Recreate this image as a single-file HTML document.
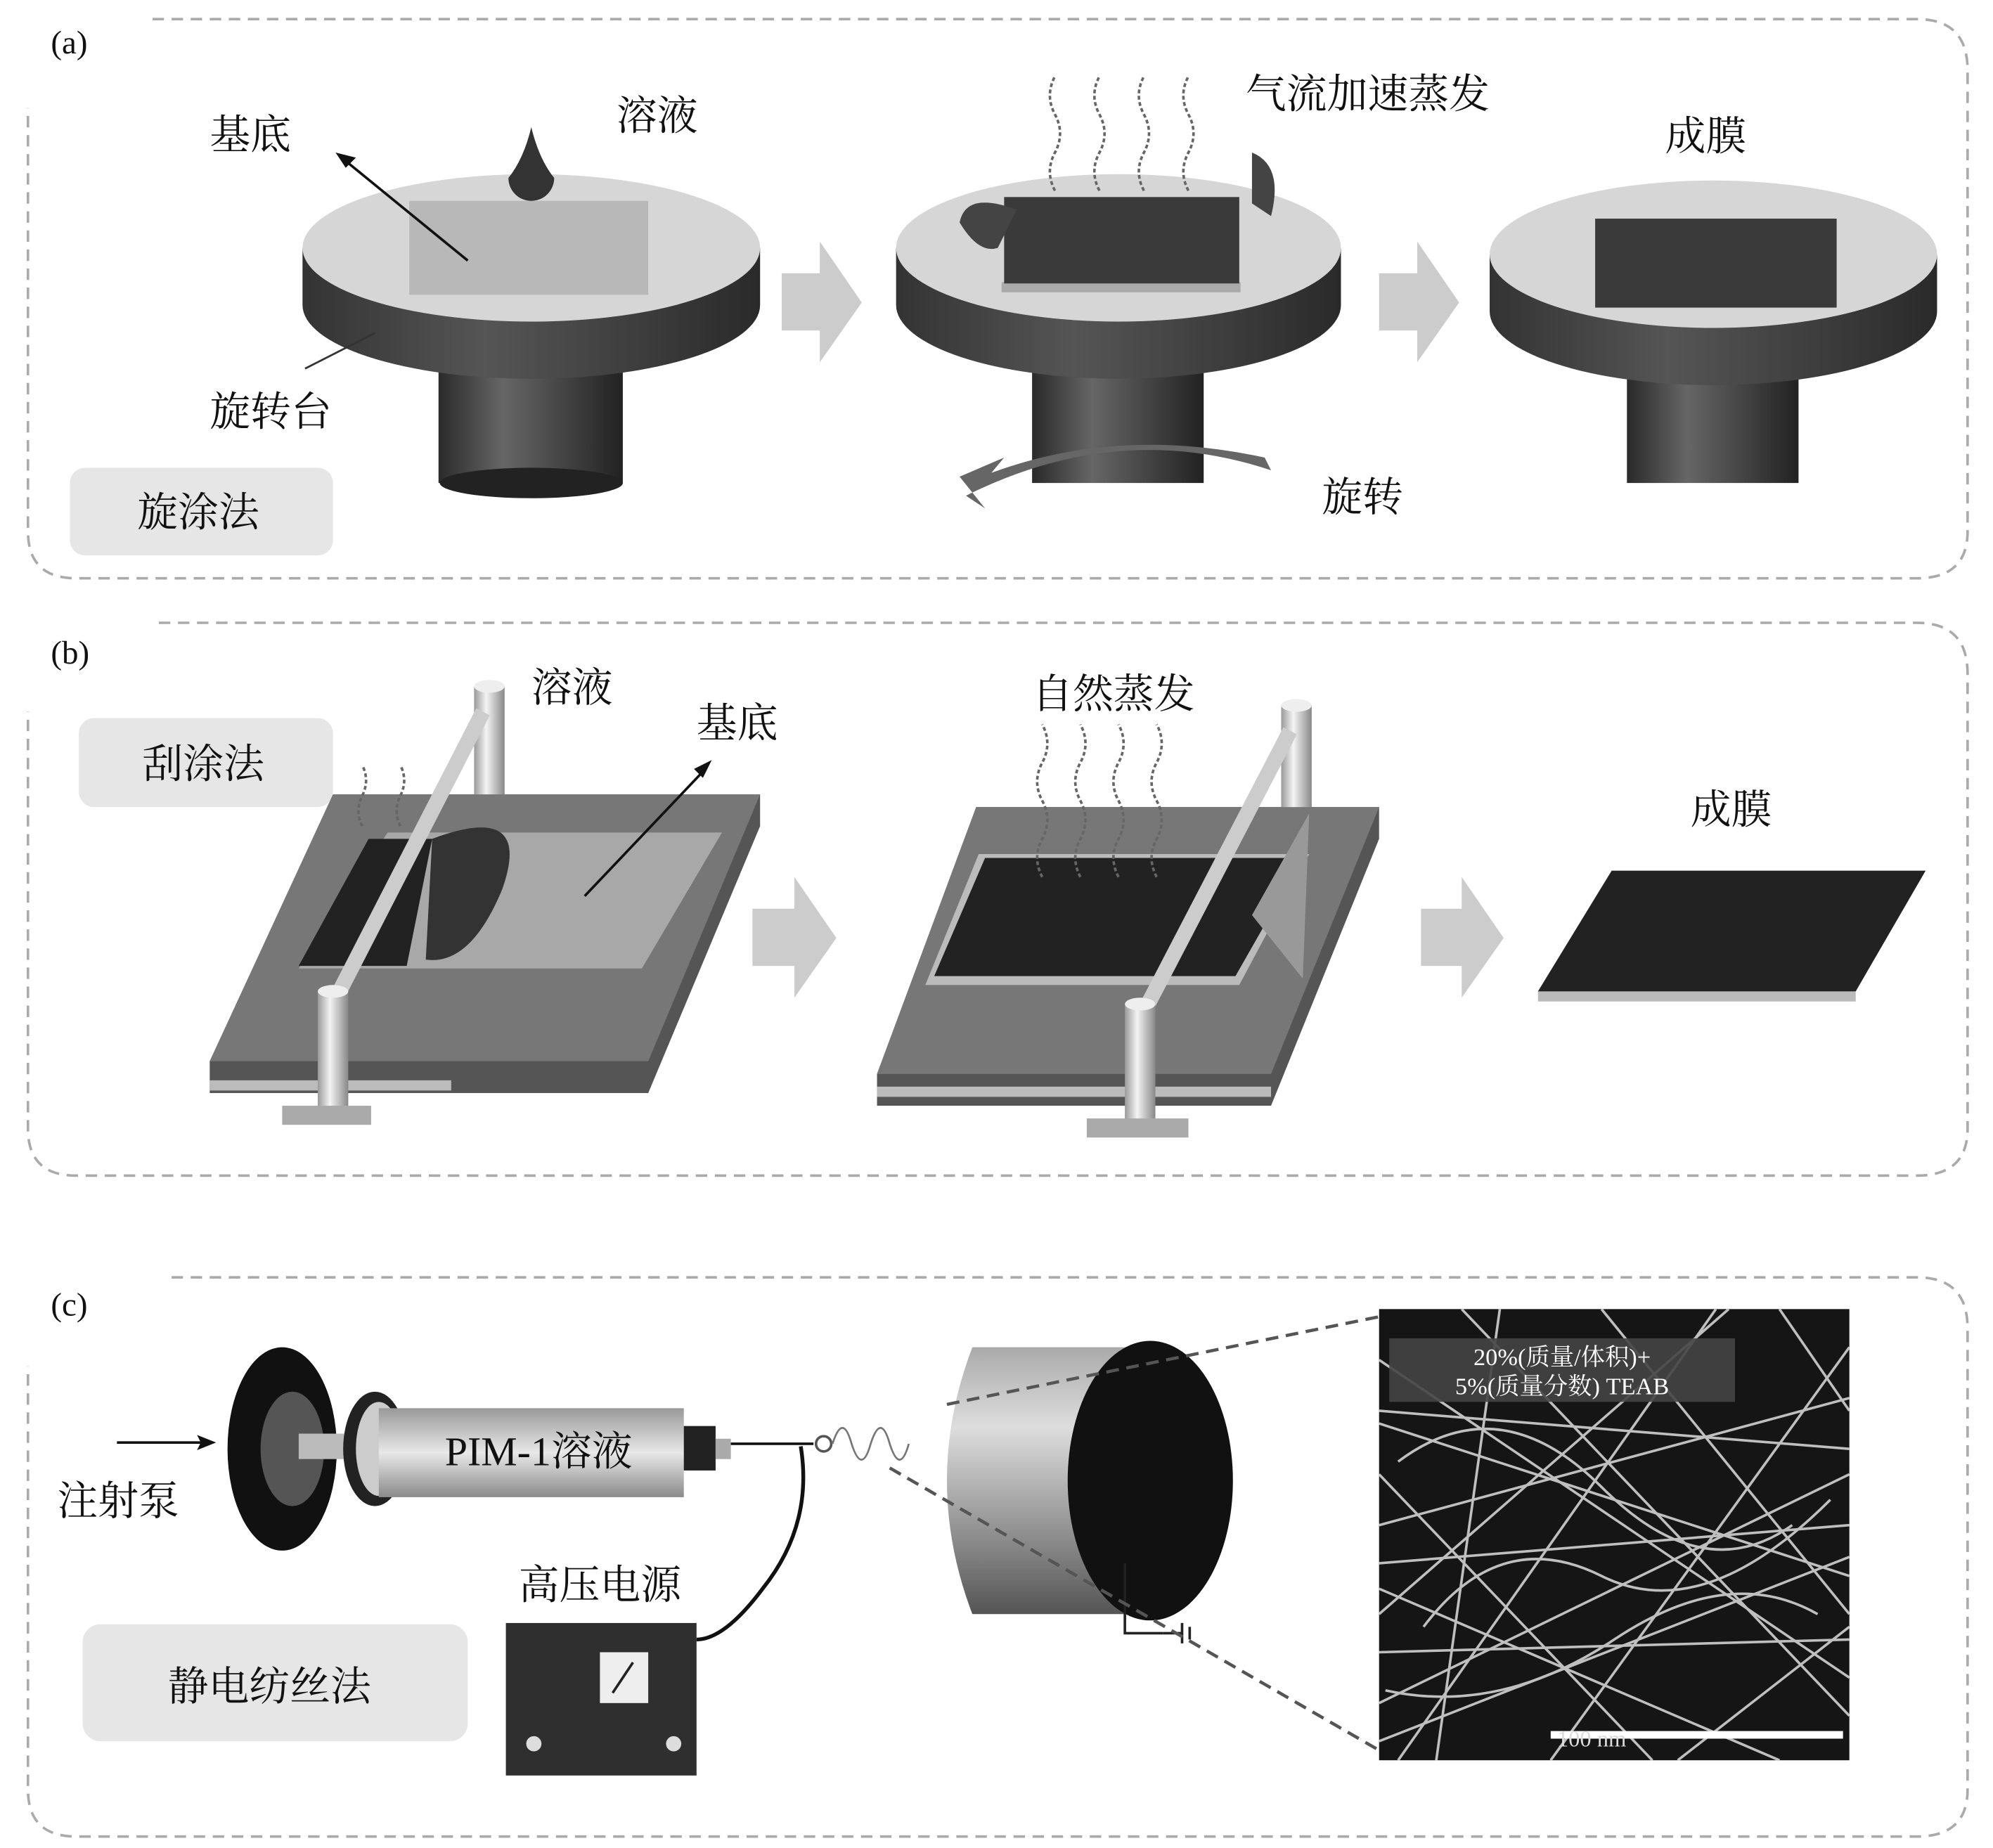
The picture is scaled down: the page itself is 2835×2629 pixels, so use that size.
<!DOCTYPE html>
<html><head><meta charset="utf-8"><style>
html,body{margin:0;padding:0;background:#fff;}
svg{display:block;}
text{font-family:"Liberation Serif","Noto Serif CJK SC",serif;fill:#111;}
</style></head><body>
<svg width="2835" height="2629" viewBox="0 0 1568 1454" xmlns="http://www.w3.org/2000/svg">
<defs>
<linearGradient id="cyl" x1="0" x2="1"><stop offset="0" stop-color="#2a2a2a"/><stop offset="0.35" stop-color="#666"/><stop offset="1" stop-color="#222"/></linearGradient>
<linearGradient id="side" x1="0" x2="1"><stop offset="0" stop-color="#333"/><stop offset="0.4" stop-color="#555"/><stop offset="1" stop-color="#2a2a2a"/></linearGradient>
<linearGradient id="pole" x1="0" x2="1"><stop offset="0" stop-color="#999"/><stop offset="0.4" stop-color="#f4f4f4"/><stop offset="1" stop-color="#888"/></linearGradient>
<linearGradient id="drum" x1="0" y1="0" x2="0" y2="1"><stop offset="0" stop-color="#aaa"/><stop offset="0.3" stop-color="#ddd"/><stop offset="1" stop-color="#555"/></linearGradient>
<linearGradient id="syr" x1="0" y1="0" x2="0" y2="1"><stop offset="0" stop-color="#999"/><stop offset="0.5" stop-color="#e8e8e8"/><stop offset="1" stop-color="#8a8a8a"/></linearGradient>
</defs>
<g fill="none" stroke="#aaa" stroke-width="2" stroke-dasharray="9,6">
<path d="M120 15 H1508 Q1548 15 1548 55 V418 Q1548 455 1508 455 H60 Q22 455 22 418 V85"/>
<path d="M125 490 H1508 Q1548 490 1548 530 V888 Q1548 925 1508 925 H60 Q22 925 22 888 V560"/>
<path d="M135 1005 H1508 Q1548 1005 1548 1045 V1408 Q1548 1445 1508 1445 H60 Q22 1445 22 1408 V1075"/>
</g>
<text x="40" y="42" font-size="26">(a)</text>
<text x="40" y="522" font-size="26">(b)</text>
<text x="40" y="1035" font-size="26">(c)</text>

<rect x="345" y="255" width="145" height="125" fill="url(#cyl)"/>
<ellipse cx="418" cy="380" rx="72" ry="12" fill="#222"/>
<path d="M238 195 V240 A180 58 0 0 0 598 240 V195 Z" fill="url(#side)"/>
<ellipse cx="418" cy="195" rx="180" ry="58" fill="#d6d6d6"/>
<rect x="322" y="158" width="188" height="74" fill="#b8b8b8"/>
<path d="M418 100 Q412 125 400 140 A18 18 0 1 0 436 140 Q424 125 418 100Z" fill="#333"/>
<line x1="368" y1="205" x2="270" y2="125" stroke="#111" stroke-width="2"/>
<path d="M264 120 L280 124 L272 132Z" fill="#111"/>

<rect x="812" y="255" width="135" height="125" fill="url(#cyl)"/>
<path d="M705 195 V240 A175 58 0 0 0 1055 240 V195 Z" fill="url(#side)"/>
<ellipse cx="880" cy="195" rx="175" ry="58" fill="#d6d6d6"/>
<rect x="788" y="222" width="188" height="8" fill="#aaa"/>
<rect x="790" y="155" width="185" height="68" fill="#3a3a3a"/>
<path d="M760 390 Q880 330 1000 370 L995 360 Q880 335 780 372 L790 360 L755 375 L775 400 Z" fill="#666"/>
<path d="M800 165 Q760 150 755 175 Q770 200 785 195 Z" fill="#444"/>
<path d="M985 120 Q1010 130 1000 170 L985 160 Z" fill="#444"/>
<g fill="none" stroke="#666" stroke-width="2" stroke-dasharray="3,2">
<path d="M830 150 q-8-15 0-30 q8-15 0-30 q-8-15 0-30"/><path d="M865 150 q-8-15 0-30 q8-15 0-30 q-8-15 0-30"/><path d="M900 150 q-8-15 0-30 q8-15 0-30 q-8-15 0-30"/><path d="M935 150 q-8-15 0-30 q8-15 0-30 q-8-15 0-30"/>
</g>

<rect x="1280" y="255" width="135" height="125" fill="url(#cyl)"/>
<path d="M1172 200 V245 A176 58 0 0 0 1524 245 V200 Z" fill="url(#side)"/>
<ellipse cx="1348" cy="200" rx="176" ry="58" fill="#d6d6d6"/>
<rect x="1255" y="172" width="190" height="70" fill="#3a3a3a"/>

<path d="M615 215 H645 V190 L678 238 L645 285 V260 H615Z" fill="#ccc"/>
<path d="M1085 215 H1115 V190 L1148 238 L1115 285 V260 H1085Z" fill="#ccc"/>

<g font-size="32">
<text x="165" y="117">基底</text><text x="485" y="102">溶液</text>
<text x="980" y="85">气流加速蒸发</text><text x="1310" y="118">成膜</text>
<text x="165" y="335">旋转台</text><text x="1040" y="402">旋转</text>
</g>
<line x1="240" y1="290" x2="295" y2="262" stroke="#333" stroke-width="1.5"/>
<rect x="55" y="368" width="207" height="69" rx="12" fill="#e6e6e6"/>
<text x="108" y="414" font-size="32">旋涂法</text>

<rect x="62" y="565" width="200" height="70" rx="12" fill="#e6e6e6"/>
<text x="112" y="612" font-size="32">刮涂法</text>
<path d="M262 625 H598 V650 L510 860 H165 V835Z" fill="#555"/>
<path d="M262 625 H598 L510 835 H165Z" fill="#777"/>
<path d="M165 850 H355 V858 H165Z" fill="#bbb"/>
<path d="M305 655 H568 L505 762 H235Z" fill="#a8a8a8"/>
<path d="M290 660 H340 L320 760 H235Z" fill="#222"/>
<path d="M340 660 Q420 630 395 700 Q370 760 335 755Z" fill="#333"/>
<rect x="373" y="540" width="24" height="85" fill="url(#pole)"/><ellipse cx="385" cy="540" rx="12" ry="5" fill="#eee"/>
<path d="M380 560 L262 790" stroke="#ccc" stroke-width="12"/>
<rect x="250" y="780" width="24" height="95" fill="url(#pole)"/><ellipse cx="262" cy="780" rx="12" ry="5" fill="#eee"/>
<rect x="222" y="870" width="70" height="15" fill="#aaa"/>
<line x1="460" y1="705" x2="555" y2="605" stroke="#111" stroke-width="2"/>
<path d="M560 598 L546 605 L553 612Z" fill="#111"/>
<g fill="none" stroke="#666" stroke-width="2" stroke-dasharray="3,2"><path d="M285 650 q-6-12 0-24 q6-12 0-24"/><path d="M315 650 q-6-12 0-24 q6-12 0-24"/></g>

<path d="M768 635 H1085 V660 L1000 870 H690 V845Z" fill="#555"/>
<path d="M768 635 H1085 L1000 845 H690Z" fill="#777"/>
<path d="M690 855 H1000 V863 H690Z" fill="#bbb"/>
<path d="M770 672 H1030 L975 775 H728Z" fill="#bbb"/>
<path d="M775 675 H1025 L972 768 H735Z" fill="#222"/>
<path d="M985 720 L1030 640 L1025 770 Z" fill="#999"/>
<rect x="1008" y="555" width="24" height="80" fill="url(#pole)"/><ellipse cx="1020" cy="555" rx="12" ry="5" fill="#eee"/>
<path d="M1015 575 L898 800" stroke="#ccc" stroke-width="12"/>
<rect x="885" y="790" width="24" height="95" fill="url(#pole)"/><ellipse cx="897" cy="790" rx="12" ry="5" fill="#eee"/>
<rect x="855" y="880" width="80" height="15" fill="#aaa"/>
<g fill="none" stroke="#666" stroke-width="2" stroke-dasharray="3,2"><path d="M820 690 q-8-15 0-30 q8-15 0-30 q-8-15 0-30 q8-15 0-30"/><path d="M850 690 q-8-15 0-30 q8-15 0-30 q-8-15 0-30 q8-15 0-30"/><path d="M880 690 q-8-15 0-30 q8-15 0-30 q-8-15 0-30 q8-15 0-30"/><path d="M910 690 q-8-15 0-30 q8-15 0-30 q-8-15 0-30 q8-15 0-30"/></g>

<path d="M1210 780 H1460 V788 H1210Z" fill="#bbb"/>
<path d="M1268 685 H1515 L1460 780 H1210Z" fill="#222"/>
<path d="M592 715 H625 V690 L658 738 L625 785 V760 H592Z" fill="#ccc"/>
<path d="M1118 715 H1150 V690 L1183 738 L1150 785 V760 H1118Z" fill="#ccc"/>
<g font-size="32"><text x="418" y="552">溶液</text><text x="548" y="580">基底</text><text x="812" y="557">自然蒸发</text><text x="1330" y="648">成膜</text></g>

<line x1="92" y1="1135" x2="160" y2="1135" stroke="#111" stroke-width="2"/>
<path d="M170 1135 L155 1129 L158 1135 L155 1141Z" fill="#111"/>
<text x="45" y="1192" font-size="32">注射泵</text>
<ellipse cx="222" cy="1140" rx="43" ry="80" fill="#111"/>
<ellipse cx="230" cy="1140" rx="25" ry="45" fill="#555"/>
<rect x="235" y="1128" width="60" height="20" fill="#bbb"/>
<ellipse cx="295" cy="1140" rx="25" ry="45" fill="#222"/><ellipse cx="298" cy="1140" rx="18" ry="37" fill="#ccc"/>
<rect x="298" y="1108" width="240" height="70" fill="url(#syr)"/>
<rect x="538" y="1122" width="25" height="35" fill="#222"/><rect x="563" y="1132" width="12" height="16" fill="#aaa"/>
<text x="350" y="1153" font-size="32">PIM-1溶液</text>
<path d="M575 1136 H640" stroke="#111" stroke-width="2"/>
<path d="M630 1138 Q640 1200 600 1250 Q570 1290 548 1290" fill="none" stroke="#111" stroke-width="3"/>
<circle cx="648" cy="1136" r="6" fill="none" stroke="#555" stroke-width="2"/>
<path d="M655 1136 q8-25 15 0 q8 25 15 0 q8-25 15 0 q8 25 15 0" fill="none" stroke="#777" stroke-width="1.5"/>
<text x="408" y="1258" font-size="32">高压电源</text>
<rect x="398" y="1277" width="150" height="120" fill="#2f2f2f"/>
<rect x="472" y="1300" width="38" height="40" fill="#eee"/><line x1="482" y1="1332" x2="498" y2="1308" stroke="#222" stroke-width="2"/>
<circle cx="420" cy="1372" r="6" fill="#ddd"/><circle cx="530" cy="1372" r="6" fill="#ddd"/>
<rect x="65" y="1278" width="303" height="92" rx="14" fill="#e6e6e6"/>
<text x="132" y="1338" font-size="32">静电纺丝法</text>

<path d="M765 1060 H905 V1270 H765 Q725 1165 765 1060Z" fill="url(#drum)"/>
<ellipse cx="905" cy="1165" rx="65" ry="110" fill="#111"/>
<path d="M885 1230 V1285 H915" stroke="#222" stroke-width="2" fill="none"/>
<path d="M915 1285 h15 M930 1277 v16 M936 1280 v10" stroke="#222" stroke-width="2"/>
<g stroke="#555" stroke-width="2.5" stroke-dasharray="10,6"><line x1="745" y1="1105" x2="1090" y2="1035"/><line x1="700" y1="1155" x2="1090" y2="1380"/></g>

<rect x="1085" y="1030" width="370" height="355" fill="#151515"/>
<g stroke="#ddd" stroke-width="2" opacity="0.85" fill="none">
<line x1="1085" y1="1120" x2="1455" y2="1240"/><line x1="1085" y1="1200" x2="1455" y2="1100"/><line x1="1100" y1="1385" x2="1350" y2="1030"/>
<line x1="1085" y1="1300" x2="1455" y2="1290"/><line x1="1150" y1="1030" x2="1455" y2="1350"/><line x1="1085" y1="1250" x2="1400" y2="1385"/>
<line x1="1085" y1="1340" x2="1455" y2="1160"/><line x1="1220" y1="1385" x2="1455" y2="1060"/><line x1="1085" y1="1160" x2="1300" y2="1385"/>
<line x1="1085" y1="1070" x2="1455" y2="1320"/><line x1="1180" y1="1030" x2="1130" y2="1385"/><line x1="1085" y1="1230" x2="1455" y2="1200"/>
<line x1="1085" y1="1110" x2="1455" y2="1140"/><line x1="1260" y1="1030" x2="1455" y2="1270"/><line x1="1085" y1="1370" x2="1455" y2="1225"/>
<path d="M1100 1150 q80 -60 160 20 t150 30"/><path d="M1120 1280 q60 -80 140 -40 t180 -60"/><path d="M1090 1330 q90 20 180 -40 t160 -20"/>
<line x1="1320" y1="1385" x2="1455" y2="1280"/><line x1="1085" y1="1270" x2="1360" y2="1030"/><line x1="1400" y1="1030" x2="1455" y2="1110"/>
</g>
<rect x="1093" y="1053" width="272" height="50" fill="#444" opacity="0.9"/>
<text x="1229" y="1074" font-size="19" text-anchor="middle" style="fill:#fff">20%(质量/体积)+</text>
<text x="1229" y="1097" font-size="19" text-anchor="middle" style="fill:#fff">5%(质量分数) TEAB</text>
<rect x="1220" y="1362" width="230" height="6" fill="#fff"/>
<text x="1225" y="1374" font-size="18" style="fill:#ddd">100 nm</text>
</svg>
</body></html>
